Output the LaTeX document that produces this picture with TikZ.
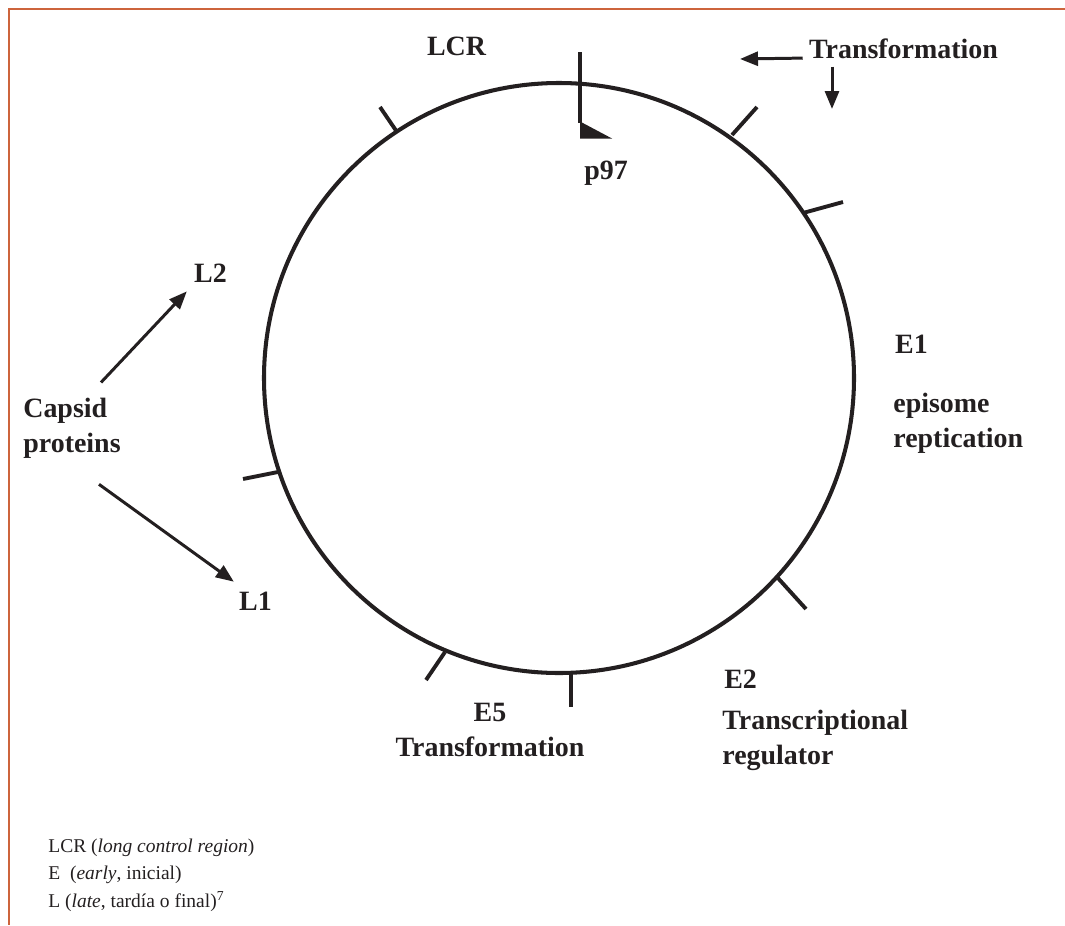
\documentclass[tikz,border=0pt]{standalone}
\usepackage{fontspec}
\setmainfont{Liberation Serif}
\usetikzlibrary{arrows.meta, calc}
\definecolor{ink}{RGB}{35,31,32}
\definecolor{frameorange}{RGB}{205,100,60}

\begin{document}
\begin{tikzpicture}[
  lbl/.style={font=\fontsize{15.9}{19.8}\selectfont\bfseries, text=ink, inner sep=0pt, align=left},
  note/.style={font=\fontsize{11.1}{15.6}\selectfont, text=ink, inner sep=0pt, align=left},
  ring/.style={draw=ink, line width=2.3pt},
  tick/.style={draw=ink, line width=2.2pt},
  arr/.style={-{Triangle[length=0.36cm,width=0.28cm]}, draw=ink, line width=1.7pt},
  frm/.style={draw=frameorange, line width=1.2pt}
]
  \useasboundingbox (0,0) rectangle (21.3,-18.5);
  \draw[frm] (21.3,-0.18) -- (0.18,-0.18) -- (0.18,-18.5);

  % genome circle and gene borders
  \coordinate (ctr) at (11.18,-7.56);
  \draw[ring] (ctr) circle (5.9);
  \draw[tick] (7.94,-2.64) -- (7.60,-2.14);
  \draw[tick] (14.64,-2.70) -- (15.14,-2.14);
  \draw[tick] (16.06,-4.26) -- (16.86,-4.04);
  \draw[tick] (15.54,-11.54) -- (16.12,-12.18);
  \draw[tick] (11.42,-13.44) -- (11.42,-14.14);
  \draw[tick] (8.90,-13.04) -- (8.52,-13.60);
  \draw[tick] (5.56,-9.44) -- (4.86,-9.58);

  % promoter flag
  \draw[tick] (11.6,-1.04) -- (11.6,-2.46);
  \fill[ink] (11.6,-2.43) -- (11.6,-2.77) -- (12.24,-2.77) -- cycle;

  % labels (base of a multi-line node = its last line)
  \node[lbl, anchor=base] (lcr) at (9.13,-1.10) {LCR};
  \node[lbl, anchor=base] (p97) at (12.12,-3.58) {p97};
  \node[lbl, anchor=base] (trf) at (18.07,-1.16) {Transformation};
  \node[lbl, anchor=base] (e1) at (18.23,-7.06) {E1};
  \node[lbl, anchor=base west] (epi) at (17.86,-8.94) {episome\\reptication};
  \node[lbl, anchor=base west] (e2) at (14.48,-13.76) {E2};
  \node[lbl, anchor=base west] (trx) at (14.44,-15.28) {Transcriptional\\regulator};
  \node[lbl, anchor=base, align=center] (e5) at (9.8,-15.12) {E5\\Transformation};
  \node[lbl, anchor=base west] (cap) at (0.46,-9.04) {Capsid\\proteins};
  \node[lbl, anchor=base] (l2) at (4.21,-5.64) {L2};
  \node[lbl, anchor=base] (l1) at (5.11,-12.2) {L1};

  % arrows
  \coordinate (trfA) at (14.80,-1.18);
  \coordinate (trfB) at (16.64,-2.18);
  \draw[arr, shorten <=0.12cm] (trf.base west) -- (trfA);
  \draw[arr, shorten <=0.16cm] (trf.south -| trfB) -- (trfB);
  \draw[arr] ([xshift=0.58cm,yshift=0.30cm]cap.north) -- ([xshift=-0.14cm,yshift=-0.18cm]l2.south west);
  \draw[arr] ([xshift=0.54cm,yshift=-0.52cm]cap.south) -- ([xshift=-0.10cm,yshift=0.19cm]l1.north west);

  % legend
  \node[note, anchor=base west] (key) at (0.96,-18.14) {LCR (\textit{long control region})\\E~ (\textit{early}, inicial)\\L (\textit{late}, tardía o final)\textsuperscript{7}};
\end{tikzpicture}
\end{document}
